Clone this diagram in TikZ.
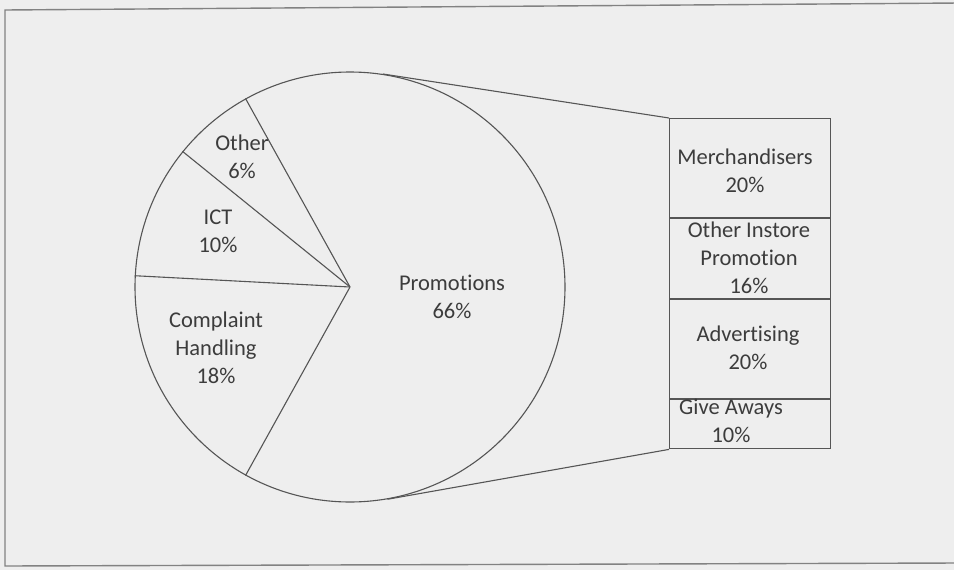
\documentclass[tikz,border=0pt]{standalone}
\usepackage{fontspec}
\setmainfont[Ligatures=NoCommon]{Carlito}
\usetikzlibrary{calc}
\definecolor{paper}{RGB}{238,238,238}
\definecolor{ink}{RGB}{60,60,60}
\definecolor{rule}{RGB}{85,85,85}
\definecolor{frame}{RGB}{130,130,130}
\begin{document}
\begin{tikzpicture}[x=1pt,y=-1pt,
  lbl/.style={align=center,text=ink,inner sep=0pt,
    font=\fontsize{22.5}{28}\selectfont},
  seg/.style={draw=rule,line width=1.1pt,minimum width=161pt,inner sep=0pt,
    rectangle,anchor=north west},
  wedge/.style={draw=rule,line width=1.1pt},
  series/.style={draw=rule,line width=1.1pt}]
  % page and outer frame
  \fill[paper] (0,0) rectangle (954,570);
  \useasboundingbox (0,0) rectangle (954,570);
  \draw[frame,line width=1.4pt] (960,3) -- (5,10) -- (5,566) -- (960,563);

  % pie
  \node[circle,draw=rule,line width=1.1pt,minimum size=430pt,inner sep=0pt] (pie) at (350,287) {};
  \coordinate (c) at (350,287);
  \draw[wedge] (c) -- (pie.119.4);
  \draw[wedge] (c) -- (pie.141.0);
  \draw[wedge] (c) -- (pie.177.0);
  \draw[wedge] (c) -- (pie.241.8);

  \node[lbl] (lother) at (242,157) {Other\\6\%};
  \node[lbl] (lict) at (218,231) {ICT\\10\%};
  \node[lbl] (lcomp) at (216,348) {Complaint\\Handling\\18\%};
  \node[lbl] (lpromo) at (452,297) {Promotions\\66\%};

  % bar of the Promotions share
  \node[seg,minimum height=99pt] (merch) at (669,118) {};
  \node[seg,minimum height=80pt] (instore) at (merch.south west) {};
  \node[seg,minimum height=99pt] (advert) at (instore.south west) {};
  \node[seg,minimum height=49pt] (give) at (advert.south west) {};

  \node[lbl] (lmerch) at (745,171) {Merchandisers\\20\%};
  \node[lbl] (linstore) at (749,258) {Other Instore\\Promotion\\16\%};
  \node[lbl] (ladvert) at (748,348) {Advertising\\20\%};
  \node[lbl] (lgive) at (731,421) {Give Aways\\10\%};

  % series lines from the pie to the bar
  \draw[series] (tangent cs:node=pie,point={(merch.north west)},solution=1) -- (merch.north west);
  \draw[series] (tangent cs:node=pie,point={(give.south west)},solution=2) -- (give.south west);
\end{tikzpicture}
\end{document}
